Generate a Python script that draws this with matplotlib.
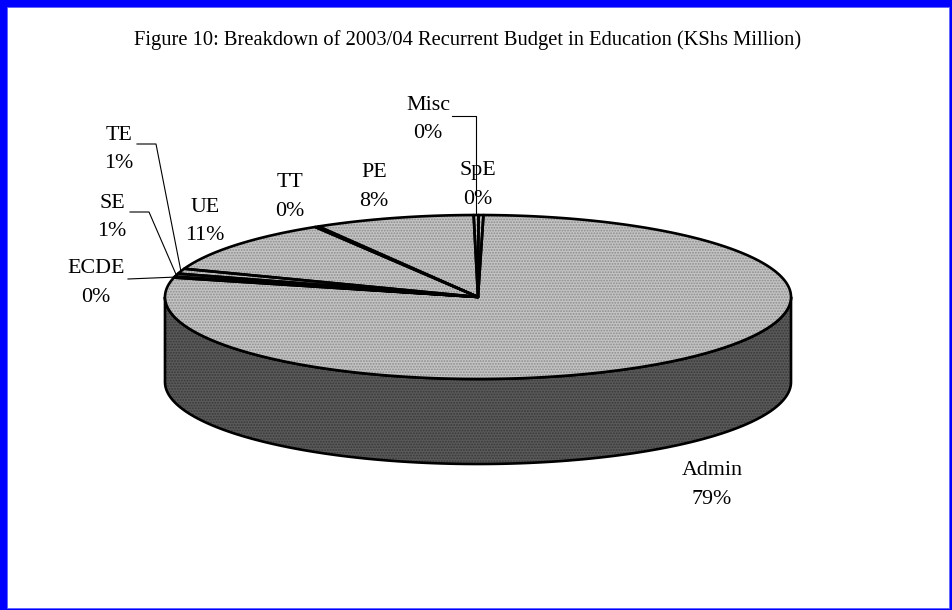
import numpy as np
import matplotlib
matplotlib.use("Agg")
import matplotlib.pyplot as plt
from matplotlib.patches import Polygon, Rectangle

# ---- data (counter-clockwise order starting near 12 o'clock) ----
categories = ["SpE", "Misc", "PE", "TT", "UE", "TE", "SE", "ECDE", "Admin"]
shares = [0.25, 0.25, 8.3, 0.2, 10.7, 1.0, 0.6, 0.2, 78.6]   # percent of budget
title = "Figure 10: Breakdown of 2003/04 Recurrent Budget in Education (KShs Million)"

# ---- layout (pixels) ----
W, H = 952, 610
cx, cy, a, b, depth = 478, 297, 313, 82, 85
start_angle = 89.0
top_face = "#c4c4c4"
top_dots = "#8c8c8c"
side_face = "#5a5a5a"
side_dots = "#383838"

# label anchor: (center x, baseline of first line)
label_pos = {
    "Misc": (428, 110), "SpE": (478, 175), "PE": (374, 177), "TT": (290, 187),
    "UE": (205, 212), "TE": (119, 140), "SE": (112, 208), "ECDE": (96, 273),
    "Admin": (712, 475),
}
line_gap = 28.5
# leader lines: horizontal stub start (x, y); the line then runs to the slice rim
leader_start = {"Misc": (452, 116), "TE": (137, 144), "SE": (130, 212), "ECDE": (128, 279)}
leader_vertical = {"Misc": True, "TE": False, "SE": False, "ECDE": False}
leader_stub = {"Misc": 0, "TE": 19, "SE": 19, "ECDE": 0}

plt.rcParams["hatch.linewidth"] = 0.9
fig = plt.figure(figsize=(W / 100, H / 100), dpi=100)
ax = fig.add_axes([0, 0, 1, 1])
ax.set_xlim(0, W)
ax.set_ylim(H, 0)
ax.axis("off")

# border
ax.add_patch(Rectangle((0, 0), W, H, facecolor="#0000ff", edgecolor="none", zorder=0))
ax.add_patch(Rectangle((7, 7), W - 10, H - 9, facecolor="white", edgecolor="#6060ff", lw=0.6, zorder=0.5))


def proj(theta, z=0.0):
    t = np.radians(theta)
    return cx + a * np.cos(t), cy - b * np.sin(t) + z


def textured(poly_pts, face, dots, z):
    ax.add_patch(Polygon(poly_pts, closed=True, facecolor=face, edgecolor=dots,
                         hatch="......", lw=0, zorder=z))
    ax.add_patch(Polygon(poly_pts, closed=True, fill=False, edgecolor="black",
                         lw=1.9, joinstyle="round", zorder=z + 0.1))


# slice angles
vals = np.array(shares, dtype=float)
deg = vals / vals.sum() * 360.0
bounds = start_angle + np.concatenate([[0], np.cumsum(deg)])

# side wall (visible front half)
for i in range(len(vals)):
    t1, t2 = bounds[i], bounds[i + 1]
    for off in (0, 360, -360):
        lo, hi = max(t1, 180 + off), min(t2, 360 + off)
        if hi > lo:
            th = np.linspace(lo, hi, 200)
            xs, ys = proj(th)
            xb, yb = proj(th[::-1], depth)
            pts = np.column_stack([np.concatenate([xs, xb]), np.concatenate([ys, yb])])
            textured(pts, side_face, side_dots, 2)

# top face slices
for i in range(len(vals)):
    th = np.linspace(bounds[i], bounds[i + 1], max(3, int(deg[i] * 2)))
    xs, ys = proj(th)
    pts = np.column_stack([np.concatenate([[cx], xs]), np.concatenate([[cy], ys])])
    textured(pts, top_face, top_dots, 3)

# labels
pct = vals / vals.sum() * 100
for i, cat in enumerate(categories):
    x, y = label_pos[cat]
    ax.text(x, y, cat, ha="center", va="baseline",
            fontsize=15.8, family="Liberation Serif", zorder=5)
    ax.text(x, y + line_gap, f"{pct[i]:.0f}%", ha="center", va="baseline",
            fontsize=15.8, family="Liberation Serif", zorder=5)
    if cat in leader_start:
        mid = (bounds[i] + bounds[i + 1]) / 2
        ex, ey = proj(mid)
        sx, sy = leader_start[cat]
        if leader_vertical[cat]:
            pts = [(sx, sy), (ex, sy), (ex, ey)]
        else:
            pts = [(sx, sy), (sx + leader_stub[cat], sy), (ex, ey)]
        ax.plot([p[0] for p in pts], [p[1] for p in pts], color="black", lw=0.8, zorder=4)

ax.text(468, 45, title, ha="center", va="baseline", fontsize=14.8,
        family="Liberation Serif", zorder=5)

fig.savefig("out.png", dpi=100)
